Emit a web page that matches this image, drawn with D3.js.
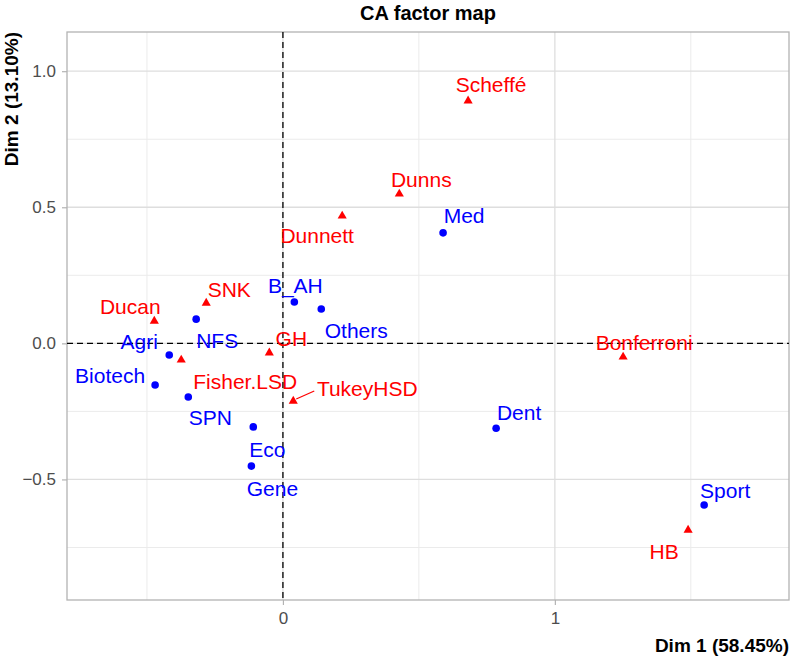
<!DOCTYPE html>
<html>
<head>
<meta charset="utf-8">
<script src="https://cdn.jsdelivr.net/npm/d3@7"></script>
<style>
  body { margin: 0; background: #fff; }
  text { font-family: "Liberation Sans", Arial, sans-serif; }
</style>
</head>
<body>
<script>
var w = 792, h = 659;
var margin = {top: 32, right: 3, bottom: 59, left: 67};

// column points (blue circles)
var colNames = ['Med', 'B_AH', 'Others', 'NFS', 'Agri', 'Biotech', 'SPN', 'Eco', 'Gene', 'Dent', 'Sport'];
var colDim1  = [0.589, 0.042, 0.141, -0.319, -0.418, -0.470, -0.348, -0.109, -0.116, 0.784, 1.549];
var colDim2  = [0.406, 0.152, 0.126, 0.089, -0.043, -0.153, -0.197, -0.307, -0.451, -0.312, -0.594];

// row points (red triangles)
var rowNames = ['Scheffé', 'Dunns', 'Dunnett', 'SNK', 'Ducan', 'Fisher.LSD', 'GH', 'TukeyHSD', 'Bonferroni', 'HB'];
var rowDim1  = [0.681, 0.428, 0.218, -0.282, -0.473, -0.374, -0.050, 0.038, 1.251, 1.490];
var rowDim2  = [0.891, 0.549, 0.468, 0.148, 0.082, -0.061, -0.035, -0.212, -0.050, -0.686];

var xTicks = [0, 1];
var yTicks = [-0.5, 0.0, 0.5, 1.0];
var xMinor = [-0.5, 0.5, 1.5];
var yMinor = [-0.75, -0.25, 0.25, 0.75];

// where each label sits relative to its point, px (repel result)
var nudge = {
  'Med': [21, -17], 'B_AH': [1, -17], 'Others': [35, 21], 'NFS': [21, 21], 'Agri': [-30, -14],
  'Biotech': [-45, -10], 'SPN': [22, 20], 'Eco': [14, 23], 'Gene': [21, 22], 'Dent': [23, -16],
  'Sport': [21, -15], 'Scheffé': [23, -16], 'Dunns': [22, -14], 'Dunnett': [-25, 19],
  'SNK': [23, -14], 'Ducan': [-24, -15], 'Fisher.LSD': [64, 21], 'GH': [22, -14],
  'TukeyHSD': [74, -13], 'Bonferroni': [21, -15], 'HB': [-24, 21]
};
var withSegment = ['TukeyHSD'];

var innerW = w - margin.left - margin.right,
    innerH = h - margin.top - margin.bottom;

var x = d3.scaleLinear().domain([-0.794, 1.861]).range([0, innerW]);
var y = d3.scaleLinear().domain([-0.943, 1.144]).range([innerH, 0]);

var svg = d3.select('body').append('svg')
    .attr('width', w)
    .attr('height', h);

var g = svg.append('g')
    .attr('transform', 'translate(' + [margin.left, margin.top] + ')');

// grid
g.selectAll('.xminor').data(xMinor).enter().append('line')
    .attr('x1', x).attr('x2', x).attr('y1', 0).attr('y2', innerH)
    .attr('stroke', '#ebebeb').attr('stroke-width', 1);
g.selectAll('.yminor').data(yMinor).enter().append('line')
    .attr('y1', y).attr('y2', y).attr('x1', 0).attr('x2', innerW)
    .attr('stroke', '#ebebeb').attr('stroke-width', 1);
g.selectAll('.xmajor').data(xTicks).enter().append('line')
    .attr('x1', x).attr('x2', x).attr('y1', 0).attr('y2', innerH)
    .attr('stroke', '#dedede').attr('stroke-width', 1.3);
g.selectAll('.ymajor').data(yTicks).enter().append('line')
    .attr('y1', y).attr('y2', y).attr('x1', 0).attr('x2', innerW)
    .attr('stroke', '#dedede').attr('stroke-width', 1.3);

// axes
var xAxis = g.append('g')
    .attr('transform', 'translate(0,' + innerH + ')')
    .call(d3.axisBottom(x).tickValues(xTicks).tickFormat(d3.format('d')).tickSize(5).tickPadding(7));
var yAxis = g.append('g')
    .call(d3.axisLeft(y).tickValues(yTicks).tickFormat(d3.format('.1f')).tickSize(5).tickPadding(6));
[xAxis, yAxis].forEach(function(a) {
    a.select('.domain').remove();
    a.selectAll('line').attr('stroke', '#b3b3b3').attr('stroke-width', 1.2);
    a.selectAll('text').attr('fill', '#4d4d4d').style('font-size', '17px');
});
yAxis.selectAll('text').text(function(d) { return d3.format('.1f')(d).replace('-', '-'); });

// border
g.append('rect')
    .attr('width', innerW).attr('height', innerH)
    .attr('fill', 'none').attr('stroke', '#b3b3b3').attr('stroke-width', 1.3);

// origin lines
g.append('line')
    .attr('x1', x(0)).attr('x2', x(0)).attr('y1', 0).attr('y2', innerH)
    .attr('stroke', '#000').attr('stroke-width', 1.3).attr('stroke-dasharray', '6,4');
g.append('line')
    .attr('y1', y(0)).attr('y2', y(0)).attr('x1', 0).attr('x2', innerW)
    .attr('stroke', '#000').attr('stroke-width', 1.3).attr('stroke-dasharray', '6,4');

var cols = colNames.map(function(n, i) { return {name: n, d1: colDim1[i], d2: colDim2[i]}; });
var rows = rowNames.map(function(n, i) { return {name: n, d1: rowDim1[i], d2: rowDim2[i]}; });

// segments
g.selectAll('.seg').data(rows.filter(function(d) { return withSegment.indexOf(d.name) >= 0; }))
  .enter().append('line')
    .attr('x1', function(d) { return x(d.d1) + 3; })
    .attr('y1', function(d) { return y(d.d2) - 2; })
    .attr('x2', function(d) { return x(d.d1) + 21; })
    .attr('y2', function(d) { return y(d.d2) - 10; })
    .attr('stroke', 'red').attr('stroke-width', 1.2);

// points
g.selectAll('.col').data(cols).enter().append('circle')
    .attr('cx', function(d) { return x(d.d1); })
    .attr('cy', function(d) { return y(d.d2); })
    .attr('r', 3.8)
    .style('fill', 'blue');

g.selectAll('.row').data(rows).enter().append('path')
    .attr('d', d3.symbol().type(d3.symbolTriangle).size(36))
    .attr('transform', function(d) { return 'translate(' + [x(d.d1), y(d.d2)] + ')'; })
    .style('fill', 'red');

// labels
function addLabels(data, colour) {
    g.selectAll(null).data(data).enter().append('text')
        .attr('x', function(d) { return x(d.d1) + nudge[d.name][0]; })
        .attr('y', function(d) { return y(d.d2) + nudge[d.name][1]; })
        .attr('dy', '0.36em')
        .attr('text-anchor', 'middle')
        .style('font-size', '21px')
        .style('fill', colour)
        .text(function(d) { return d.name; });
}
addLabels(cols, 'blue');
addLabels(rows, 'red');

// titles
svg.append('text')
    .attr('x', margin.left + innerW / 2).attr('y', 20)
    .attr('text-anchor', 'middle')
    .style('font-size', '20px').style('font-weight', 'bold')
    .text('CA factor map');
svg.append('text')
    .attr('x', margin.left + innerW).attr('y', 652)
    .attr('text-anchor', 'end')
    .style('font-size', '19px').style('font-weight', 'bold')
    .text('Dim 1 (58.45%)');
svg.append('text')
    .attr('transform', 'translate(18,' + margin.top + ') rotate(-90)')
    .attr('text-anchor', 'end')
    .style('font-size', '19px').style('font-weight', 'bold')
    .text('Dim 2 (13.10%)');
</script>
</body>
</html>
